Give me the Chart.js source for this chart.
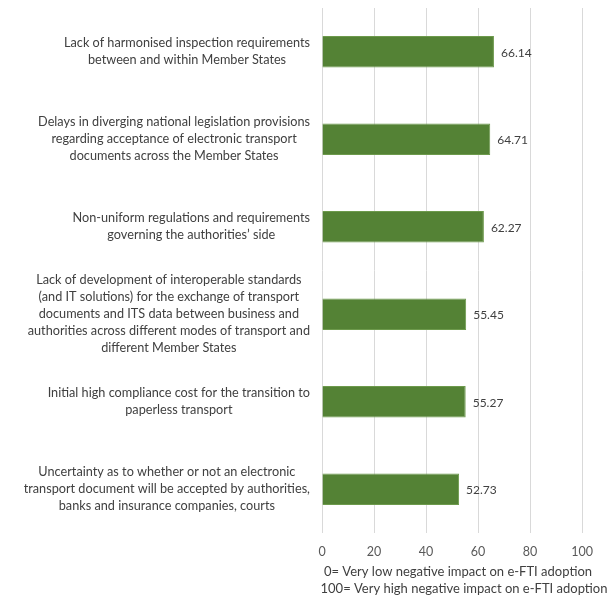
<!DOCTYPE html>
<html>
<head>
<meta charset="utf-8">
<script src="https://cdn.jsdelivr.net/npm/chart.js@4.4.1/dist/chart.umd.min.js"></script>
<style>
    html, body { margin: 0; padding: 0; background: #fff; }
    #wrap { width: 608px; height: 599px; position: relative; }
</style>
</head>
<body>
<div id="wrap"><canvas id="barChart"></canvas></div>
<script>
// Data
const categories = [
    ['Lack of harmonised inspection requirements', 'between and within Member States'],
    ['Delays in diverging national legislation provisions', 'regarding acceptance of electronic transport', 'documents across the Member States'],
    ['Non-uniform regulations and requirements', 'governing the authorities\u2019 side'],
    ['Lack of development of interoperable standards', '(and IT solutions) for the exchange of transport', 'documents and ITS data between business and', 'authorities across different modes of transport and', 'different Member States'],
    ['Initial high compliance cost for the transition to', 'paperless transport'],
    ['Uncertainty as to whether or not an electronic', 'transport document will be accepted by authorities,', 'banks and insurance companies, courts']
];
const scores = [66.14, 64.71, 62.27, 55.45, 55.27, 52.73];
const xTicks = [0, 20, 40, 60, 80, 100];
const axisNote = ['0= Very low negative impact on e-FTI adoption', '100= Very high negative impact on e-FTI adoption'];

const FONT = 'Lato, "Open Sans", sans-serif';

// Draws category labels (centered lines, right-aligned block), value labels and the axis note
const textPlugin = {
    id: 'textPlugin',
    afterDatasetsDraw(chart) {
        const ctx = chart.ctx;
        const yScale = chart.scales.y;
        const area = chart.chartArea;

        ctx.save();
        ctx.fillStyle = '#404040';
        ctx.font = '12.7px ' + FONT;
        ctx.textBaseline = 'middle';
        ctx.textAlign = 'center';
        const lineH = 17;
        categories.forEach((lines, i) => {
            const yc = yScale.getPixelForValue(i);
            const maxW = Math.max(...lines.map(l => ctx.measureText(l).width));
            const cx = 310 - maxW / 2;
            const y0 = yc - (lines.length - 1) * lineH / 2;
            lines.forEach((l, j) => ctx.fillText(l, cx, y0 + j * lineH));
        });

        // value labels
        ctx.textAlign = 'left';
        ctx.font = '12px ' + FONT;
        const meta = chart.getDatasetMeta(0);
        meta.data.forEach((bar, i) => {
            ctx.fillText(scores[i].toFixed(2), bar.x + 7, bar.y + 1);
        });

        // axis note
        ctx.textAlign = 'center';
        ctx.font = '13px ' + FONT;
        ctx.fillText(axisNote[0], 458, area.bottom + 39);
        ctx.fillText(axisNote[1], 464, area.bottom + 56);
        ctx.restore();
    }
};

const ctx = document.getElementById('barChart').getContext('2d');
new Chart(ctx, {
    type: 'bar',
    data: {
        labels: categories,
        datasets: [{
            data: scores,
            backgroundColor: '#548235',
            borderColor: '#6d9a4c',
            borderWidth: 1,
            barPercentage: 0.36,
            categoryPercentage: 1
        }]
    },
    options: {
        indexAxis: 'y',
        responsive: true,
        maintainAspectRatio: false,
        animation: false,
        layout: {
            padding: { top: 8, right: 26, left: 0, bottom: 0 }
        },
        plugins: {
            legend: { display: false },
            tooltip: { enabled: false }
        },
        scales: {
            x: {
                min: 0,
                max: 100,
                afterBuildTicks: (scale) => {
                    scale.ticks = xTicks.map(v => ({ value: v }));
                },
                afterFit: (scale) => { scale.height = 66; },
                border: { display: false },
                grid: { color: '#d9d9d9', drawTicks: false },
                ticks: {
                    padding: 11,
                    color: '#595959',
                    font: { family: FONT, size: 12.5 }
                }
            },
            y: {
                afterFit: (scale) => { scale.width = 322; },
                border: { display: false },
                grid: { display: false },
                ticks: { display: false }
            }
        }
    },
    plugins: [textPlugin]
});
</script>
</body>
</html>
